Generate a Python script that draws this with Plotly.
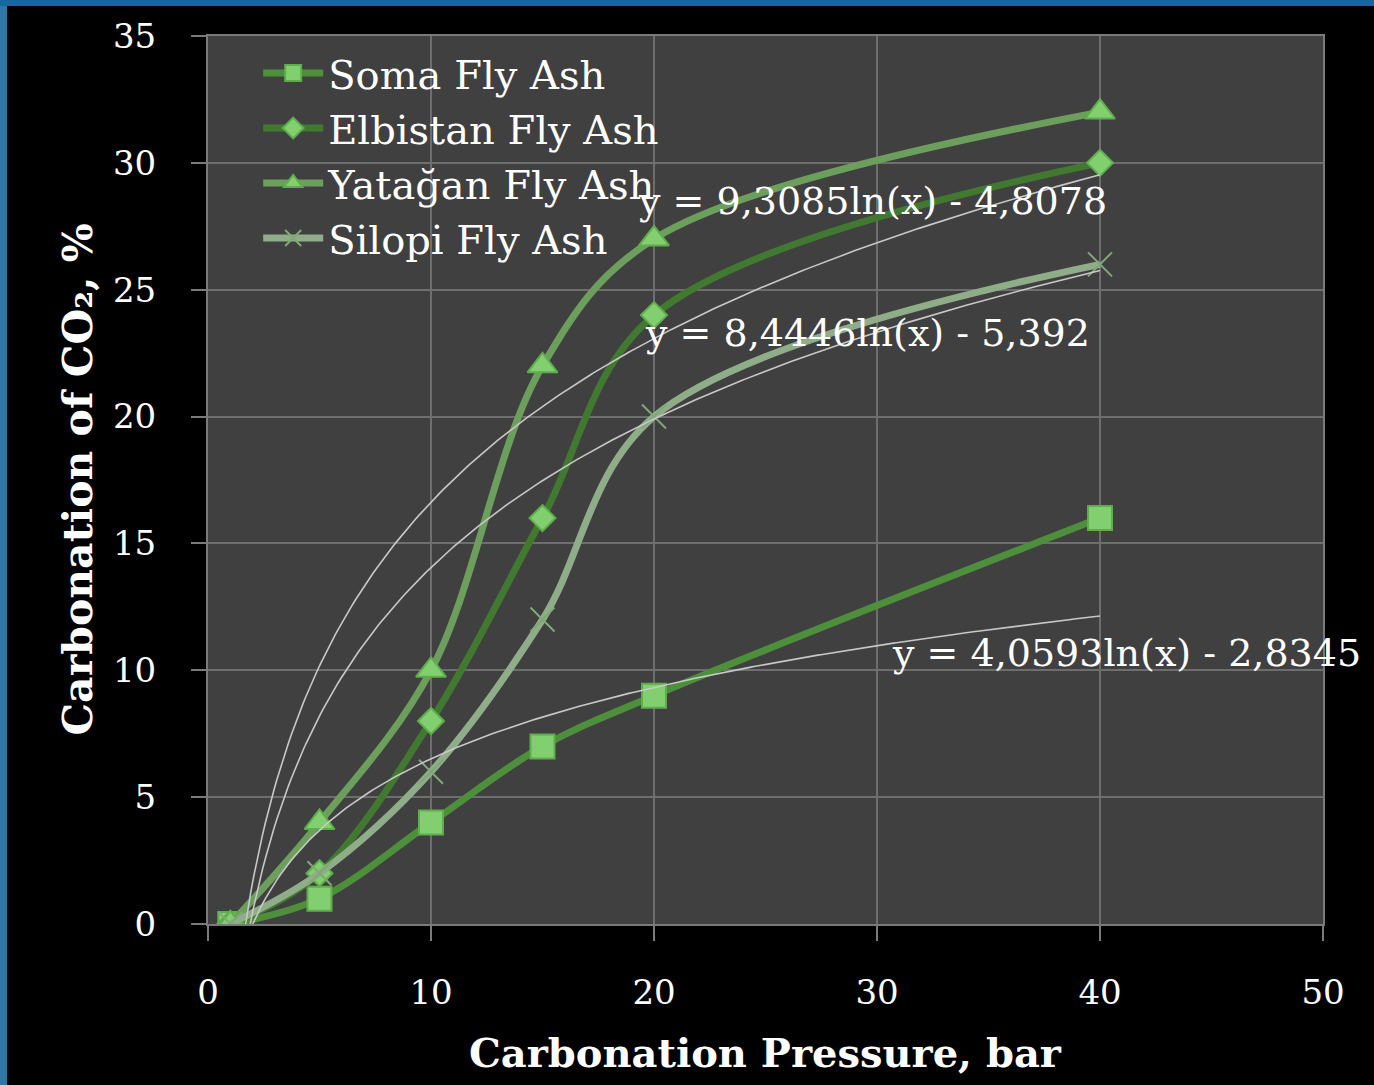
import numpy as np
import plotly.graph_objects as go

pressure = [1, 5, 10, 15, 20, 40]
soma = [0, 1, 4, 7, 9, 16]
elbistan = [0, 2, 8, 16, 24, 30]
yatagan = [0, 4, 10, 22, 27, 32]
silopi = [0, 2, 6, 12, 20, 26]

series_names = ["Soma Fly Ash", "Elbistan Fly Ash", "Yatağan Fly Ash", "Silopi Fly Ash"]
series_values = [soma, elbistan, yatagan, silopi]
line_colors = ["#4e8f3c", "#427930", "#6c9f5c", "#8fad88"]
marker_symbols = ["square", "diamond", "triangle-up", "x-thin"]
marker_sizes = [24, 20, 26, 24]

# trendline equations as shown on the chart
trend_series = [yatagan, elbistan, soma]
trend_labels = ["y = 9,3085ln(x) - 4,8078", "y = 8,4446ln(x) - 5,392", "y = 4,0593ln(x) - 2,8345"]
trend_label_pos = [(19.2, 28.5), (19.5, 23.3), (30.6, 10.7)]

FONT = "DejaVu Serif"

fig = go.Figure()

for name, vals, col, sym, sz in zip(series_names, series_values, line_colors, marker_symbols, marker_sizes):
    if sym == "x-thin":
        marker = dict(symbol=sym, size=sz, color=col, line=dict(color="#7fa877", width=2))
    else:
        marker = dict(symbol=sym, size=sz, color="#82cf70", line=dict(color="#5fae4c", width=2))
    fig.add_trace(go.Scatter(
        x=pressure, y=vals, name=name, mode="lines+markers",
        line=dict(color=col, width=7, shape="spline", smoothing=1.0),
        marker=marker,
    ))

xs = np.linspace(min(pressure), max(pressure), 300)
for vals in trend_series:
    a, b = np.polyfit(np.log(pressure), vals, 1)
    fig.add_trace(go.Scatter(
        x=xs, y=a * np.log(xs) + b, mode="lines", showlegend=False,
        line=dict(color="#c8c8c8", width=1.6), hoverinfo="skip",
    ))

for txt, (px, py) in zip(trend_labels, trend_label_pos):
    fig.add_annotation(x=px, y=py, text=txt, showarrow=False, xanchor="left", yanchor="middle",
                       font=dict(family=FONT, size=38, color="white"))

# axis titles
fig.add_annotation(xref="paper", yref="paper", x=0.5, y=-0.145, text="<b>Carbonation Pressure, bar</b>",
                   showarrow=False, xanchor="center", yanchor="middle",
                   font=dict(family=FONT, size=40, color="white"))
fig.add_annotation(xref="paper", yref="paper", x=-0.117, y=0.5, text="<b>Carbonation of CO₂, %</b>",
                   showarrow=False, xanchor="center", yanchor="middle", textangle=-90,
                   font=dict(family=FONT, size=41, color="white"))

W, H = 1374, 1085
L, R, T, B = 208, 51, 36, 161
pw, ph = W - L - R, H - T - B
# blue slide edges
fig.add_shape(type="rect", xref="paper", yref="paper", x0=-L / pw, x1=(-L + 7) / pw,
              y0=-B / ph, y1=1 + T / ph, fillcolor="#2b7aa6", line=dict(width=0), layer="below")
fig.add_shape(type="rect", xref="paper", yref="paper", x0=-L / pw, x1=1 + R / pw,
              y0=1 + (T - 6) / ph, y1=1 + T / ph, fillcolor="#146aa0", line=dict(width=0), layer="below")

fig.update_layout(
    width=W, height=H,
    margin=dict(l=L, r=R, t=T, b=B),
    paper_bgcolor="black", plot_bgcolor="#404040",
    font=dict(family=FONT, color="white"),
    showlegend=True,
    legend=dict(x=0.045, y=0.995, xanchor="left", yanchor="top", bgcolor="rgba(0,0,0,0)",
                font=dict(family=FONT, size=40, color="white"), tracegroupgap=0, itemwidth=60),
    xaxis=dict(range=[0, 50], dtick=10, tick0=0, showgrid=True, gridcolor="#6e6e6e", gridwidth=1.5,
               showline=True, linecolor="#7a7a7a", linewidth=2, mirror=True,
               ticks="outside", ticklen=15, tickcolor="#7a7a7a", tickwidth=2,
               tickfont=dict(family=FONT, size=34, color="white"), ticklabelstandoff=22, zeroline=False),
    yaxis=dict(range=[0, 35], dtick=5, tick0=0, showgrid=True, gridcolor="#6e6e6e", gridwidth=1.5,
               showline=True, linecolor="#7a7a7a", linewidth=2, mirror=True,
               ticks="outside", ticklen=15, tickcolor="#7a7a7a", tickwidth=2,
               tickfont=dict(family=FONT, size=34, color="white"), ticklabelstandoff=28, zeroline=False),
)

fig.write_html("out.html", config={"displayModeBar": False},
               post_script="document.body.style.margin='0';document.body.style.padding='0';"
                           "document.body.style.background='black';"
                           "document.documentElement.style.overflow='hidden';")
